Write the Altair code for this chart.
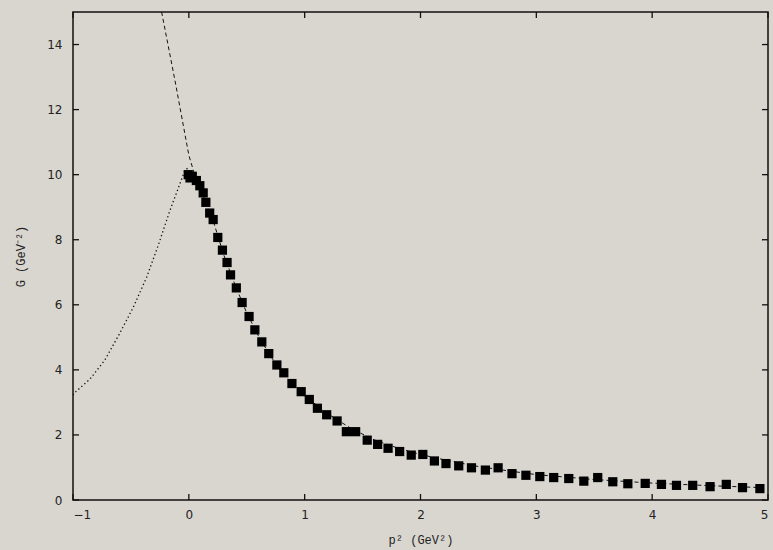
import altair as alt
import pandas as pd

# Lattice data (squares)
data_x = [-0.005, 0.01, 0.03, 0.065, 0.095, 0.124, 0.147, 0.18, 0.21, 0.25, 0.29, 0.33, 0.36, 0.41,
          0.46, 0.52, 0.57, 0.63, 0.69, 0.76, 0.82, 0.89, 0.97, 1.04, 1.11, 1.19, 1.28, 1.36, 1.44,
          1.54, 1.63, 1.72, 1.82, 1.92, 2.02, 2.12, 2.22, 2.33, 2.44, 2.56, 2.67, 2.79, 2.91, 3.03,
          3.15, 3.28, 3.41, 3.53, 3.66, 3.79, 3.94, 4.08, 4.21, 4.35, 4.50, 4.64, 4.78, 4.93]
data_y = [10.0, 9.9, 9.95, 9.82, 9.66, 9.44, 9.15, 8.82, 8.62, 8.07, 7.68, 7.30, 6.92, 6.52,
          6.07, 5.64, 5.23, 4.86, 4.50, 4.15, 3.91, 3.58, 3.33, 3.09, 2.82, 2.62, 2.43, 2.10, 2.10,
          1.84, 1.71, 1.59, 1.49, 1.38, 1.40, 1.20, 1.12, 1.05, 0.99, 0.92, 0.99, 0.81, 0.76, 0.72,
          0.69, 0.66, 0.58, 0.69, 0.56, 0.50, 0.51, 0.48, 0.45, 0.45, 0.41, 0.48, 0.38, 0.35]

# Dashed fit curve
fit_x = [-0.235, -0.12, 0.0, 0.05, 0.1, 0.2, 0.3, 0.4, 0.5, 0.6, 0.7, 0.8, 0.9, 1.0, 1.2, 1.4,
         1.6, 1.8, 2.0, 2.25, 2.5, 2.75, 3.0, 3.5, 4.0, 4.5, 4.95]
fit_y = [15.0, 12.9, 10.6, 10.0, 9.55, 8.7, 7.55, 6.6, 5.75, 5.05, 4.45, 3.95, 3.55, 3.2, 2.65,
         2.2, 1.85, 1.6, 1.4, 1.2, 1.03, 0.9, 0.78, 0.63, 0.52, 0.44, 0.38]

# Dotted curve (negative p^2)
dot_x = [-1.0, -0.985, -0.855, -0.725, -0.60, -0.48, -0.365, -0.265, -0.164, -0.078, -0.035, -0.01]
dot_y = [3.22, 3.30, 3.71, 4.30, 5.10, 5.92, 6.84, 7.82, 8.89, 9.71, 10.12, 10.2]

x_ticks = [-1, 0, 1, 2, 3, 4, 5]
y_ticks = [0, 2, 4, 6, 8, 10, 12, 14]

W, H = 695, 488
TL = 6  # inward tick length

df_data = pd.DataFrame({"x": data_x, "y": data_y})
df_fit = pd.DataFrame({"x": fit_x, "y": fit_y})
df_dot = pd.DataFrame({"x": dot_x, "y": dot_y})
df_xt = pd.DataFrame({"t": x_ticks})
df_yt = pd.DataFrame({"t": y_ticks})

xs = alt.Scale(domain=[-1, 5], nice=False, zero=False)
ys = alt.Scale(domain=[0, 15], nice=False, zero=False)

tick_font = "DejaVu Sans"
title_font = "Liberation Mono"

x_axis_main = alt.Axis(orient="bottom", values=x_ticks, format="d", ticks=False, domain=False,
                       grid=False, labelPadding=9, labelFont=tick_font, labelFontSize=12,
                       labelColor="#222",
                       title="p² (GeV²)", titleFont=title_font, titleFontSize=12,
                       titleFontWeight="normal", titleColor="#222", titlePadding=14)
y_axis_main = alt.Axis(orient="left", values=y_ticks, format="d", ticks=False, domain=False,
                       grid=False, labelPadding=11, labelFont=tick_font, labelFontSize=12,
                       labelColor="#222",
                       title="G (GeV⁻²)", titleFont=title_font, titleFontSize=12,
                       titleFontWeight="normal", titleColor="#222", titlePadding=19)

fit = alt.Chart(df_fit).mark_line(color="#111", strokeWidth=1, strokeDash=[4, 3], clip=True).encode(
    x=alt.X("x:Q", scale=xs, axis=x_axis_main),
    y=alt.Y("y:Q", scale=ys, axis=y_axis_main),
)
dots = alt.Chart(df_dot).mark_line(color="#111", strokeWidth=1.3, strokeDash=[1.3, 2.7], clip=True).encode(
    x=alt.X("x:Q", scale=xs, axis=x_axis_main),
    y=alt.Y("y:Q", scale=ys, axis=y_axis_main),
)
pts = alt.Chart(df_data).mark_point(shape="square", filled=True, size=85, color="#000", opacity=1).encode(
    x=alt.X("x:Q", scale=xs, axis=x_axis_main),
    y=alt.Y("y:Q", scale=ys, axis=y_axis_main),
)

tick_style = dict(color="#111", strokeWidth=1.3)
xt_bottom = alt.Chart(df_xt).mark_rule(**tick_style).encode(
    x=alt.X("t:Q", scale=xs, axis=x_axis_main), y=alt.value(H), y2=alt.value(H - TL))
xt_top = alt.Chart(df_xt).mark_rule(**tick_style).encode(
    x=alt.X("t:Q", scale=xs, axis=x_axis_main), y=alt.value(0), y2=alt.value(TL))
yt_left = alt.Chart(df_yt).mark_rule(**tick_style).encode(
    y=alt.Y("t:Q", scale=ys, axis=y_axis_main), x=alt.value(0), x2=alt.value(TL))
yt_right = alt.Chart(df_yt).mark_rule(**tick_style).encode(
    y=alt.Y("t:Q", scale=ys, axis=y_axis_main), x=alt.value(W), x2=alt.value(W - TL))

chart = alt.layer(fit, dots, pts, xt_bottom, xt_top, yt_left, yt_right).properties(
    width=W, height=H,
    autosize=alt.AutoSizeParams(type="none"),
    padding={"left": 73, "top": 12, "right": 5, "bottom": 50},
    background="#d9d6d0",
).configure_view(stroke="#111", strokeWidth=1.5)

chart.save("out.html", embed_options={"renderer": "svg", "actions": False})
